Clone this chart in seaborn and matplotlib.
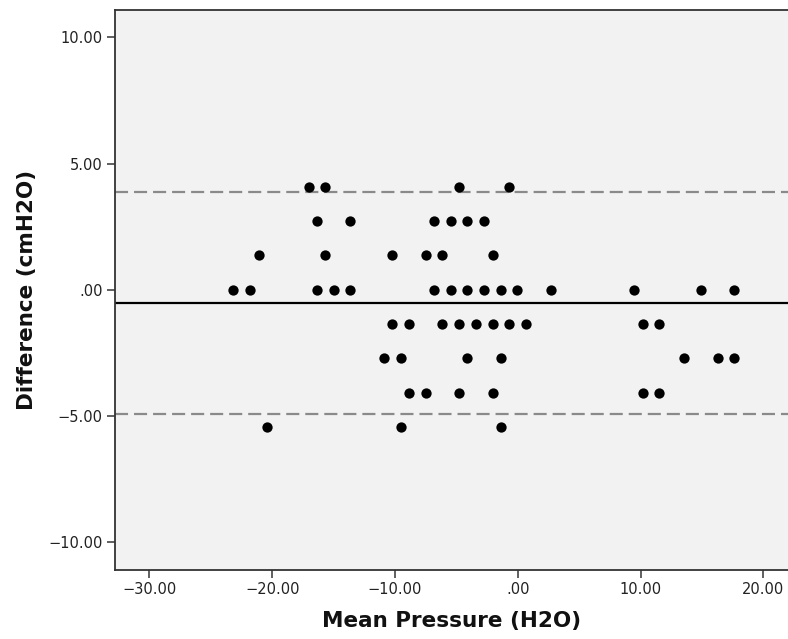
import matplotlib
matplotlib.use("Agg")
import matplotlib.pyplot as plt
import seaborn as sns
import pandas as pd
from matplotlib.ticker import FuncFormatter, FixedLocator

# Data
diff_levels = [4.08, 2.72, 1.36, 0.0, -1.36, -2.72, -4.08, -5.44]
mean_at_4_08 = [-16.98, -15.67, -4.78, -0.68]
mean_at_2_72 = [-16.37, -13.63, -6.82, -5.46, -4.10, -2.72]
mean_at_1_36 = [-21.09, -15.67, -10.21, -7.49, -6.14, -2.04]
mean_at_0 = [-23.16, -21.80, -16.37, -14.98, -13.63, -6.82, -5.46, -4.10,
             -2.72, -1.36, -0.03, 2.71, 9.50, 14.95, 17.64]
mean_at_m1_36 = [-10.21, -8.85, -6.14, -4.78, -3.42, -2.04, -0.68, 0.65, 10.18, 11.53]
mean_at_m2_72 = [-10.89, -9.53, -4.10, -1.36, 13.57, 16.29, 17.64]
mean_at_m4_08 = [-8.85, -7.49, -4.78, -2.04, 10.18, 11.53]
mean_at_m5_44 = [-20.42, -9.53, -1.36]

mean_diff = -0.535
upper_loa = 3.86
lower_loa = -4.93

x_ticks = [-30, -20, -10, 0, 10, 20]
y_ticks = [-10, -5, 0, 5, 10]

groups = [mean_at_4_08, mean_at_2_72, mean_at_1_36, mean_at_0,
          mean_at_m1_36, mean_at_m2_72, mean_at_m4_08, mean_at_m5_44]
mean_pressure = []
difference = []
for lvl, xs in zip(diff_levels, groups):
    mean_pressure += xs
    difference += [lvl] * len(xs)
df = pd.DataFrame({"Mean Pressure": mean_pressure, "Difference": difference})

sns.set_style("white")
plt.rcParams["font.family"] = ["DejaVu Sans"]
plt.rcParams["lines.scale_dashes"] = False

fig = plt.figure(figsize=(7.88, 6.39), dpi=100)
ax = fig.add_axes([115 / 788, 69 / 639, 1 - 115 / 788, 560 / 639])
ax.set_facecolor("#F2F2F2")

ax.axhline(mean_diff, color="black", lw=1.6, zorder=2)
for v in (upper_loa, lower_loa):
    ax.axhline(v, color="#8a8a8a", lw=1.6, linestyle=(0, (9.4, 4.3)), zorder=2)

sns.scatterplot(data=df, x="Mean Pressure", y="Difference", ax=ax,
                color="black", s=55, edgecolor="black", linewidth=0, zorder=3)

ax.set_xlim(-32.8, 22.0)
ax.set_ylim(-11.1, 11.08)
ax.xaxis.set_major_locator(FixedLocator(x_ticks))
ax.yaxis.set_major_locator(FixedLocator(y_ticks))

def fmt(v, pos):
    s = f"{abs(v):.2f}"
    if s.startswith("0"):
        s = s[1:]
    return ("\u2212" + s) if v < 0 else s

ax.xaxis.set_major_formatter(FuncFormatter(fmt))
ax.yaxis.set_major_formatter(FuncFormatter(fmt))

ax.tick_params(axis="both", which="major", direction="out", length=6, width=1.2,
               color="#444444", labelsize=10.5, labelcolor="#222222",
               bottom=True, left=True, pad=3)

for side in ["left", "bottom", "top"]:
    ax.spines[side].set_visible(True)
    ax.spines[side].set_color("#333333")
    ax.spines[side].set_linewidth(1.3)
ax.spines["right"].set_visible(False)

label_font = dict(fontsize=15.5, fontweight="bold", color="#111111")
ax.set_xlabel("Mean Pressure (H2O)", labelpad=10, **label_font)
ax.set_ylabel("Difference (cmH2O)", labelpad=8, **label_font)

fig.savefig("out.png", dpi=100, facecolor="white")
